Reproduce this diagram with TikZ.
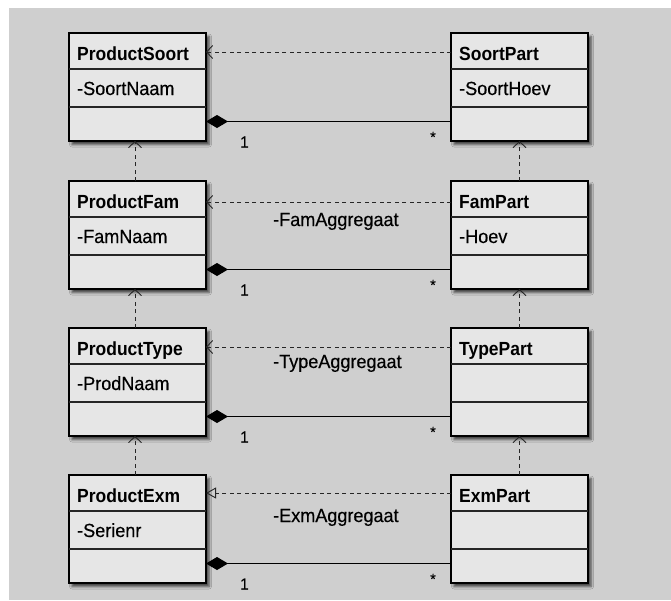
\documentclass[tikz,border=0pt]{standalone}
\usepackage{fontspec}
\setmainfont{Liberation Sans}
\newfontfamily\hdrfont{Liberation Sans}[FakeStretch=0.92]
\newfontfamily\regfont{Liberation Sans}[FakeStretch=0.95,FakeBold=0.4]
\usetikzlibrary{shadows.blur,arrows.meta}
\definecolor{bggray}{RGB}{207,207,207}
\definecolor{boxfill}{RGB}{230,230,230}
\tikzset{
  classbox/.style={draw=black, line width=1.6pt, fill=boxfill, minimum width=137pt,
    minimum height=108pt, inner sep=0pt, outer sep=0pt,
    blur shadow={shadow xshift=3pt, shadow yshift=-3.5pt, shadow blur radius=2.5pt, shadow opacity=70}},
  divline/.style={line width=1.2pt, black!85},
  titletext/.style={font=\hdrfont\fontsize{19}{21}\selectfont\bfseries, inner sep=0pt, anchor=base west},
  attrtext/.style={font=\regfont\fontsize{19}{21}\selectfont, inner sep=0pt, anchor=base west},
  lbltext/.style={font=\regfont\fontsize{19}{21}\selectfont, inner sep=0pt, anchor=base west},
  multone/.style={font=\regfont\fontsize{16}{18}\selectfont, inner sep=0pt},
  multstar/.style={font=\regfont\fontsize{15}{17}\selectfont, inner sep=0pt},
  dep/.style={draw=black!85, line width=0.9pt, dash pattern=on 4pt off 3.5pt,
    -{Straight Barb[length=6pt,width=13pt,line width=0.9pt]}},
  real/.style={draw=black!85, line width=0.9pt, dash pattern=on 4pt off 3.5pt,
    -{Triangle[open,length=10pt,width=11pt,line width=0.9pt]}},
  comp/.style={draw=black, line width=1.1pt, -{Diamond[length=22pt,width=13pt]}},
}
\newcommand\umlclass[5]{%
  \node[classbox] (#1) at (#2+68.5,#3+54) {};
  \draw[divline] ([yshift=-36pt]#1.north west) -- ([yshift=-36pt]#1.north east);
  \draw[divline] ([yshift=-74pt]#1.north west) -- ([yshift=-74pt]#1.north east);
  \node[titletext] (#1-t) at ([xshift=8pt,yshift=-27pt]#1.north west) {#4};
  \node[attrtext] (#1-a) at ([xshift=8pt,yshift=-62pt]#1.north west) {#5};
}
\begin{document}
\begin{tikzpicture}[x=1pt,y=-1pt]
\useasboundingbox (0,0) rectangle (671,600);
\fill[white] (0,0) rectangle (671,600);
\fill[bggray] (9,8) rectangle (671,600);

\umlclass{ps}{69}{33}{ProductSoort}{-SoortNaam}
\umlclass{pf}{69}{181}{ProductFam}{-FamNaam}
\umlclass{pt}{69}{328}{ProductType}{-ProdNaam}
\umlclass{pe}{69}{475}{ProductExm}{-Serienr}
\umlclass{sp}{451}{33}{SoortPart}{-SoortHoev}
\umlclass{fp}{451}{181}{FamPart}{-Hoev}
\umlclass{tp}{451}{328}{TypePart}{}
\umlclass{ep}{451}{475}{ExmPart}{}

% horizontal dependencies
\draw[dep] ([yshift=-19pt]sp.north west) -- ([yshift=-19pt]ps.north east);
\draw[dep] ([yshift=-21pt]fp.north west) -- ([yshift=-21pt]pf.north east);
\draw[dep] ([yshift=-19pt]tp.north west) -- ([yshift=-19pt]pt.north east);
\draw[real] ([yshift=-18pt]ep.north west) -- ([yshift=-18pt]pe.north east);

% vertical dependencies
\draw[dep] ([xshift=-2.5pt]pf.north) -- ([xshift=-2.5pt]ps.south);
\draw[dep] ([xshift=-2.5pt]pt.north) -- ([xshift=-2.5pt]pf.south);
\draw[dep] ([xshift=-2.5pt]pe.north) -- ([xshift=-2.5pt]pt.south);
\draw[dep] (fp.north) -- (sp.south);
\draw[dep] (tp.north) -- (fp.south);
\draw[dep] (ep.north) -- (tp.south);

% compositions
\foreach \l/\r in {ps/sp,pf/fp,pt/tp,pe/ep}{
  \draw[comp] ([yshift=-88.5pt]\r.north west) -- ([yshift=-88.5pt]\l.north east);
  \node[multone] (\l-one) at ([xshift=38.5pt,yshift=-109pt]\l.north east) {1};
  \node[multstar] (\r-star) at ([xshift=-18pt,yshift=-104pt]\r.north west) {*};
}

% labels
\node[lbltext] (fam-lbl) at ([xshift=67pt,yshift=-45pt]pf.north east) {-FamAggregaat};
\node[lbltext] (type-lbl) at ([xshift=67pt,yshift=-40pt]pt.north east) {-TypeAggregaat};
\node[lbltext] (exm-lbl) at ([xshift=67pt,yshift=-47pt]pe.north east) {-ExmAggregaat};
\end{tikzpicture}
\end{document}
